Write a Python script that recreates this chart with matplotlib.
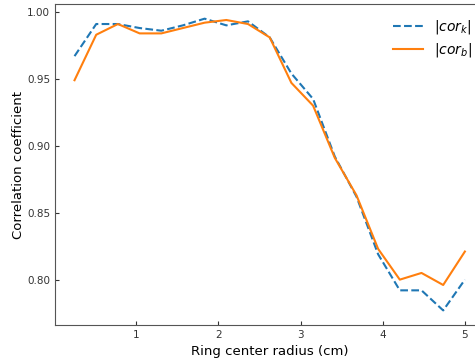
import matplotlib
matplotlib.use("Agg")
import matplotlib.pyplot as plt

# ring centre radius (cm)
radius = [0.25, 0.514, 0.778, 1.042, 1.306, 1.569, 1.833, 2.097, 2.361, 2.625,
          2.889, 3.153, 3.417, 3.681, 3.944, 4.208, 4.472, 4.736, 5.0]

# |cor_k| and |cor_b|
cor_k = [0.967, 0.991, 0.991, 0.988, 0.986, 0.990, 0.995, 0.990, 0.993, 0.981,
         0.954, 0.935, 0.892, 0.862, 0.819, 0.792, 0.792, 0.777, 0.800]
cor_b = [0.949, 0.983, 0.991, 0.984, 0.984, 0.988, 0.992, 0.994, 0.991, 0.981,
         0.947, 0.930, 0.891, 0.863, 0.823, 0.800, 0.805, 0.796, 0.821]

fig = plt.figure(figsize=(4.75, 3.61), dpi=100)
ax = fig.add_axes([0.1158, 0.0997, 0.904, 0.889])

ax.plot(radius, cor_k, "--", color="#1f77b4", lw=1.5, label="$|cor_k|$")
ax.plot(radius, cor_b, "-", color="#ff7f0e", lw=1.5, label="$|cor_b|$")

ax.set_xticks([1, 2, 3, 4, 5])
ax.set_yticks([0.80, 0.85, 0.90, 0.95, 1.00])
ax.tick_params(direction="in", length=3, labelsize=7.5, colors="#333333")
for s in ax.spines.values():
    s.set_color("#555555")

ax.set_xlabel("Ring center radius (cm)", fontsize=9.5, labelpad=3.5)
ax.set_ylabel("Correlation coefficient", fontsize=9.5, labelpad=1.5)

ax.legend(loc="upper right", bbox_to_anchor=(1.0, 0.995), frameon=False,
          fontsize=10, handlelength=2.15, labelspacing=0.35)

fig.savefig("out.png", dpi=100)
